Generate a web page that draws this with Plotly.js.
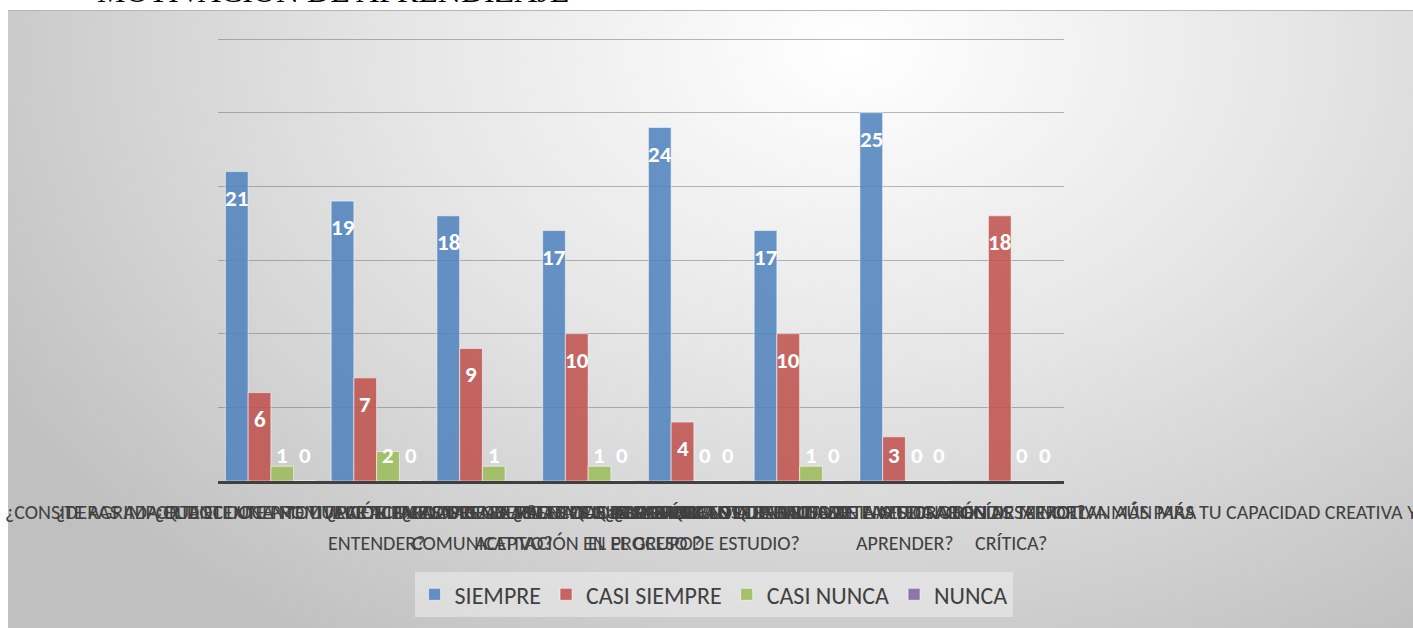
<!DOCTYPE html>
<html>
<head>
<meta charset="utf-8">
<script src="https://cdn.plot.ly/plotly-3.0.1.min.js"></script>
<style>
  html, body { margin: 0; padding: 0; background: #ffffff; width: 1413px; height: 628px; overflow: hidden; }
  #bg { position: absolute; left: 8px; top: 10px; width: 1405px; height: 618px;
        border-top: 1px solid #b5b5b5;
        background: radial-gradient(ellipse 70% 115% at 60% 6%, #ffffff 0%, #f5f5f5 18%, #e6e6e6 45%, #d4d4d4 72%, #c0c0c0 100%); }
  #chart { position: absolute; left: 0; top: 0; width: 1413px; height: 628px; }
</style>
</head>
<body>
<div id="bg"></div>
<div id="chart"></div>
<script>
// ---- data ----
const chartTitle = "MOTIVACIÓN DE APRENDIZAJE";
const labelLine1 = [
  "¿CONSIDERAS IMPORTANTE UNA MOTIVACIÓN PARA APRENDER?",
  "¿TE AGRADA QUE EL DOCENTE UTILICE EJEMPLOS DE LA VIDA COTIDIANA PARA",
  "¿EL DOCENTE PROMUEVE ACTIVIDADES GRUPALES QUE DESARROLLAN TU NIVEL",
  "¿PARTICIPAS EN CLASE SIN TEMOR A LA CRÍTICA O A LA FALTA DE",
  "¿LAS TAREAS ASIGNADAS POR EL DOCENTE TE MOTIVAN A MEJORAR EN",
  "¿SIENTES QUE EL AMBIENTE DE LA CLASE TE AYUDA A RENDIR MEJOR?",
  "¿CONSIDERAS QUE EL USO DE LAS TECNOLOGÍAS TE MOTIVA MÁS PARA",
  "¿CREES QUE LOS TRABAJOS DE INVESTIGACIÓN DESARROLLAN AÚN MÁS TU CAPACIDAD CREATIVA Y"
];
const labelLine2 = [
  "",
  "ENTENDER?",
  "COMUNICATIVO?",
  "ACEPTACIÓN EN EL GRUPO?",
  "EL PROCESO DE ESTUDIO?",
  "",
  "APRENDER?",
  "CRÍTICA?"
];
const seriesNames = ["SIEMPRE", "CASI SIEMPRE", "CASI NUNCA", "NUNCA"];
const siempre     = [21, 19, 18, 17, 24, 17, 25, null];
const casiSiempre = [6, 7, 9, 10, 4, 10, 3, 18];
const casiNunca   = [1, 2, 1, 1, 0, 1, 0, 0];
const nunca       = [0, 0, null, 0, 0, 0, 0, 0];
const seriesValues = [siempre, casiSiempre, casiNunca, nunca];
const seriesColors = ["rgba(79,129,189,0.86)", "rgba(192,80,77,0.86)", "rgba(155,187,89,0.86)", "rgba(128,100,162,0.86)"];

// ---- build ----
const catIndex = labelLine1.map((_, i) => i);
const categoryText = labelLine1.map((l, i) => l + (labelLine2[i] ? " " + labelLine2[i] : ""));
const FONT = "Carlito, Lato, 'Open Sans', sans-serif";
const BARGAP = 0.14;

const traces = seriesNames.map((name, s) => ({
  type: "bar",
  name: name,
  x: catIndex,
  y: seriesValues[s],
  customdata: categoryText,
  marker: { color: seriesColors[s], line: { color: "rgba(255,255,255,0.55)", width: 1 } },
  hovertemplate: "%{customdata}<br>" + name + ": %{y}<extra></extra>"
}));

const annotations = [];
const w = (1 - BARGAP) / seriesNames.length;
const LABEL_PAD = 1.77; // value units (about 26px) between bar top and label centre
seriesValues.forEach((vals, s) => {
  const off = -(1 - BARGAP) / 2 + (s + 0.5) * w;
  vals.forEach((v, k) => {
    if (v === null || v === undefined) return;
    annotations.push({
      xref: "x", yref: "y",
      x: catIndex[k] + off,
      y: Math.max(v - LABEL_PAD, LABEL_PAD),
      text: "<b>" + v + "</b>",
      showarrow: false,
      xanchor: "center", yanchor: "middle",
      font: { family: FONT, size: 23, color: "#ffffff" }
    });
  });
});
labelLine1.forEach((t, k) => {
  annotations.push({
    xref: "x", yref: "paper", x: catIndex[k], y: 0, yshift: -31,
    text: t, showarrow: false, xanchor: "center", yanchor: "middle",
    font: { family: FONT, size: 20, color: "#404040" }
  });
  if (labelLine2[k]) {
    annotations.push({
      xref: "x", yref: "paper", x: catIndex[k], y: 0, yshift: -62,
      text: labelLine2[k], showarrow: false, xanchor: "center", yanchor: "middle",
      font: { family: FONT, size: 20, color: "#404040" }
    });
  }
});
annotations.push({
  xref: "paper", yref: "paper", x: 0.1358, y: 1.061,
  text: chartTitle, showarrow: false, xanchor: "center", yanchor: "bottom",
  font: { family: "'Liberation Serif', 'Times New Roman', serif", size: 32, color: "#000000" }
});

const layout = {
  width: 1413, height: 628,
  margin: { l: 217.5, r: 349, t: 38, b: 147, pad: 0 },
  paper_bgcolor: "rgba(0,0,0,0)",
  plot_bgcolor: "rgba(0,0,0,0)",
  barmode: "group",
  bargap: BARGAP,
  bargroupgap: 0,
  showlegend: true,
  legend: {
    orientation: "h",
    xref: "container", yref: "container",
    x: 0.505, xanchor: "center",
    y: 0.053, yanchor: "middle",
    bgcolor: "rgba(238,238,238,0.55)",
    borderwidth: 0,
    font: { family: FONT, size: 24, color: "#404040" },
    itemwidth: 30
  },
  xaxis: {
    type: "linear",
    range: [-0.5, 7.5],
    showticklabels: false,
    ticks: "",
    showgrid: false,
    zeroline: false,
    showline: true, linecolor: "#404040", linewidth: 3,
    automargin: false,
    fixedrange: true
  },
  yaxis: {
    range: [0, 30.07],
    dtick: 5,
    showticklabels: false,
    ticks: "",
    showgrid: true, gridcolor: "rgba(100,100,100,0.45)", gridwidth: 1,
    zeroline: false,
    automargin: false,
    fixedrange: true
  },
  annotations: annotations
};

Plotly.newPlot("chart", traces, layout, { displayModeBar: false, staticPlot: true });
</script>
</body>
</html>
